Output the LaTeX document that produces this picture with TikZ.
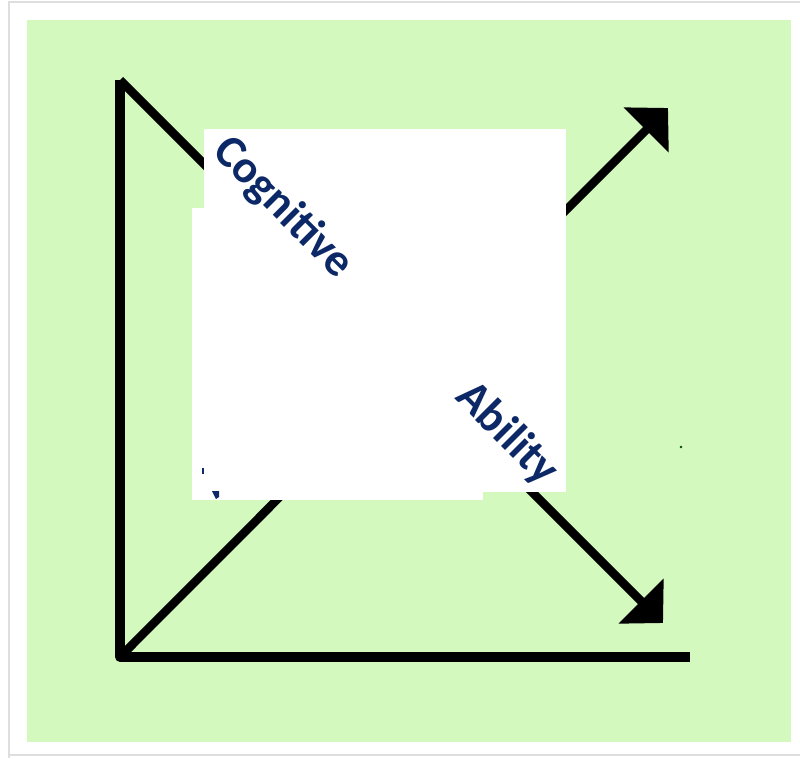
\documentclass[tikz,border=0pt]{standalone}
\usepackage{fontspec}
\setmainfont{Carlito}
\usetikzlibrary{arrows.meta}
\definecolor{bggreen}{RGB}{212,249,191}
\definecolor{navy}{RGB}{12,40,102}
\definecolor{framegray}{RGB}{222,222,222}
\tikzset{
  axis/.style={line width=9.5pt, black},
  tipped/.style={line width=8.5pt, black, -{Triangle[length=31pt,width=62pt]}},
  lbl/.style={text=navy, font=\fontsize{46}{46}\selectfont\bfseries, inner sep=0pt, rotate=-45}
}
\begin{document}
\begin{tikzpicture}[x=1pt,y=-1pt]
\useasboundingbox (0,0) rectangle (800,758);
\fill[white] (0,0) rectangle (800,758);
% frame
\draw[framegray, line width=2pt] (9,758) -- (9,2) -- (800,2);
\draw[framegray, line width=2pt] (9,755) -- (800,755);
% green background
\fill[bggreen] (27,20) rectangle (791,742);
% coordinates
\coordinate (top) at (120,80);
\coordinate (origin) at (120,657);
\coordinate (xend) at (690,657);
\coordinate (downtip) at (663,623);
\coordinate (uptip) at (668,108);
% axes
\draw[axis, line join=round] (xend) -- (origin) -- (top);
\draw[tipped, line cap=butt] (top) -- (downtip);
\draw[tipped] (origin) -- (uptip);
% white cover
\fill[white] (204,129) rectangle (566,492);
\fill[white] (192,208) rectangle (483,500);
% labels
\node[lbl] (cog) at (283,208) {Cognitive};
\node[lbl] (abi) at (507,434) {Ability};
% fragments
\fill[navy] (202,468) rectangle (204,474);
\fill[navy] (212,491) -- (219,491) -- (219,497) -- (216,499) -- cycle;
\fill[black!70!green] (681,447) circle (1.3);
\end{tikzpicture}
\end{document}
